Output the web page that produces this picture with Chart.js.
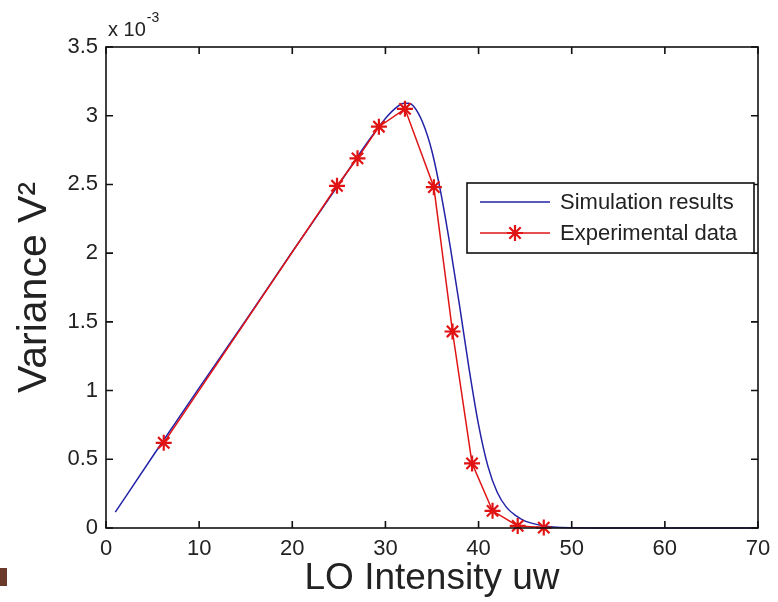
<!DOCTYPE html>
<html>
<head>
<meta charset="utf-8">
<title>Variance vs LO intensity</title>
<style>
  html, body { margin: 0; padding: 0; background: #fff; }
  #wrap { width: 778px; height: 602px; position: relative; }
</style>
<script src="https://cdn.jsdelivr.net/npm/chart.js@4.4.1/dist/chart.umd.min.js"></script>
</head>
<body>
<div id="wrap"><canvas id="VarChart" width="778" height="602"></canvas></div>
<script>
// variance values are in units of 1e-3 (see the axis multiplier)
const simX = [1, 5, 10, 15, 20, 25, 28, 30, 31, 32, 32.5, 33, 34, 35, 36, 37, 38, 39, 40, 41, 42, 43, 44, 45, 46, 47, 48, 50, 55, 60, 65, 70];
const simY = [0.115, 0.52, 1.02, 1.51, 2.01, 2.50, 2.80, 2.98, 3.05, 3.09, 3.09, 3.07, 2.95, 2.74, 2.42, 2.03, 1.60, 1.15, 0.75, 0.45, 0.26, 0.15, 0.09, 0.05, 0.03, 0.015, 0.007, 0.002, 0, 0, 0, 0];

const expX = [6.2, 24.8, 27.0, 29.3, 32.1, 35.2, 37.2, 39.3, 41.5, 44.2, 47.0];
const expY = [0.62, 2.49, 2.69, 2.92, 3.05, 2.48, 1.43, 0.47, 0.125, 0.015, 0.003];

const xTicks = [0, 10, 20, 30, 40, 50, 60, 70];
const yTicks = [0, 0.5, 1, 1.5, 2, 2.5, 3, 3.5];
const seriesNames = ['Simulation results', 'Experimental data'];
const simColor = '#2323a8';
const expColor = '#e01414';
const FONT = 'Liberation Sans, Arial, Helvetica, sans-serif';

function toPoints(xs, ys) {
  return xs.map((v, i) => ({x: v, y: ys[i]}));
}

function drawStar(ctx, cx, cy, r) {
  ctx.beginPath();
  for (let k = 0; k < 4; k++) {
    const a = k * Math.PI / 4;
    ctx.moveTo(cx - r * Math.cos(a), cy - r * Math.sin(a));
    ctx.lineTo(cx + r * Math.cos(a), cy + r * Math.sin(a));
  }
  ctx.stroke();
}

// box, inward ticks, legend and the x10^-3 multiplier
const matlabFrame = {
  id: 'matlabFrame',
  afterDraw(chart) {
    const ctx = chart.ctx;
    const a = chart.chartArea;
    const x = chart.scales.x, y = chart.scales.y;
    ctx.save();
    ctx.strokeStyle = '#111';
    ctx.lineWidth = 1.6;
    ctx.strokeRect(a.left, a.top, a.right - a.left, a.bottom - a.top);
    ctx.beginPath();
    x.ticks.forEach(t => {
      const px = x.getPixelForValue(t.value);
      ctx.moveTo(px, a.bottom); ctx.lineTo(px, a.bottom - 7);
      ctx.moveTo(px, a.top); ctx.lineTo(px, a.top + 7);
    });
    y.ticks.forEach(t => {
      const py = y.getPixelForValue(t.value);
      ctx.moveTo(a.left, py); ctx.lineTo(a.left + 7, py);
      ctx.moveTo(a.right, py); ctx.lineTo(a.right - 7, py);
    });
    ctx.stroke();

    // multiplier above the y axis
    ctx.fillStyle = '#222';
    ctx.textBaseline = 'alphabetic';
    ctx.textAlign = 'left';
    ctx.font = '20px ' + FONT;
    ctx.fillText('x 10', a.left + 2, a.top - 11);
    const w = ctx.measureText('x 10').width;
    ctx.font = '14px ' + FONT;
    ctx.fillText('-3', a.left + 3 + w, a.top - 25);

    // legend
    const lx = 467, ly = 183, lw = 287, lh = 70;
    ctx.fillStyle = '#fff';
    ctx.fillRect(lx, ly, lw, lh);
    ctx.strokeStyle = '#111';
    ctx.lineWidth = 1.6;
    ctx.strokeRect(lx, ly, lw, lh);
    const rows = [ly + 19, ly + 50];
    const colors = [simColor, expColor];
    ctx.font = '22px ' + FONT;
    ctx.textBaseline = 'middle';
    rows.forEach((ry, i) => {
      ctx.strokeStyle = colors[i];
      ctx.lineWidth = 1.5;
      ctx.beginPath();
      ctx.moveTo(lx + 13, ry); ctx.lineTo(lx + 83, ry);
      ctx.stroke();
      if (i === 1) { ctx.lineWidth = 2.2; drawStar(ctx, lx + 48, ry, 8); }
      ctx.fillStyle = '#222';
      ctx.fillText(chart.data.datasets[i].label, lx + 93, ry + 1);
    });

    // crop mark at the lower left edge
    ctx.fillStyle = '#6b3a2a';
    ctx.fillRect(0, 568, 7, 18);
    ctx.restore();
  }
};

new Chart('VarChart', {
  type: 'line',
  data: {
    datasets: [{
      label: seriesNames[0],
      data: toPoints(simX, simY),
      borderColor: simColor,
      borderWidth: 1.5,
      pointRadius: 0,
      cubicInterpolationMode: 'monotone',
      clip: false,
      order: 2
    }, {
      label: seriesNames[1],
      data: toPoints(expX, expY),
      borderColor: expColor,
      backgroundColor: expColor,
      borderWidth: 1.5,
      tension: 0,
      pointStyle: 'star',
      pointRadius: 8,
      pointBorderWidth: 2.2,
      pointBorderColor: expColor,
      clip: false,
      order: 1
    }]
  },
  options: {
    responsive: false,
    animation: false,
    layout: { padding: { top: 47, right: 20, left: 0, bottom: 0 } },
    plugins: { legend: { display: false }, tooltip: { enabled: false } },
    scales: {
      x: {
        type: 'linear', min: 0, max: 70,
        grid: { display: false }, border: { display: false },
        ticks: { padding: 0, color: '#222', maxRotation: 0, font: { family: FONT, size: 22 }, callback: v => String(v) },
        afterBuildTicks: s => { s.ticks = xTicks.map(v => ({value: v})); },
        afterFit: s => { s.height = 74; },
        title: { display: true, text: 'LO Intensity uw', color: '#222', padding: { top: 0, bottom: 1 }, font: { family: FONT, size: 37 } }
      },
      y: {
        type: 'linear', min: 0, max: 3.5,
        grid: { display: false }, border: { display: false },
        ticks: { padding: 0, color: '#222', font: { family: FONT, size: 22 }, callback: v => String(v) },
        afterBuildTicks: s => { s.ticks = yTicks.map(v => ({value: v})); },
        afterFit: s => { s.width = 106; },
        title: { display: true, text: 'Variance V²', color: '#222', padding: { top: 10, bottom: 0 }, font: { family: FONT, size: 41 } }
      }
    }
  },
  plugins: [matlabFrame]
});
</script>
</body>
</html>
